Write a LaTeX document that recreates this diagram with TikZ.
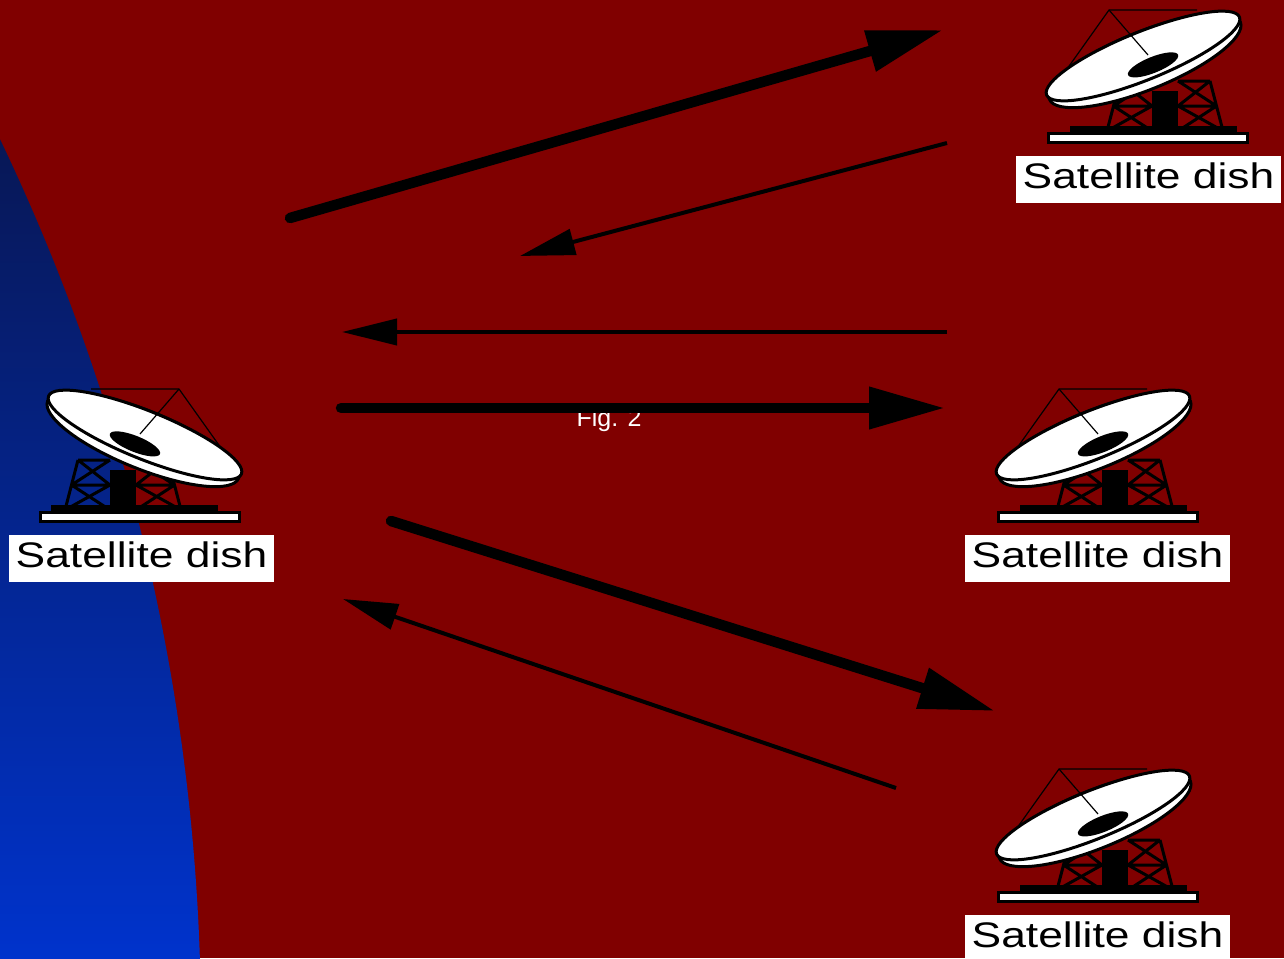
\documentclass[tikz,border=0pt]{standalone}
\usepackage{fontspec}
\setmainfont{Liberation Sans}
\newfontfamily\labelfont[FakeStretch=1.25]{Liberation Sans}
\usetikzlibrary{arrows.meta}

\definecolor{bgred}{RGB}{128,0,0}
\definecolor{navytop}{RGB}{8,22,80}
\definecolor{bluebottom}{RGB}{0,51,204}

\tikzset{
  dishlabel/.style={fill=white, text=black, anchor=north west,
    inner xsep=6.5pt, inner ysep=0pt, minimum height=47pt,
    text height=25pt, text depth=7pt,
    font=\labelfont\fontsize{35.5}{40}\selectfont},
  thicklink/.style={line width=10.5pt, line cap=round,
    -{Triangle[length=76pt,width=40pt]}},
  thinlink/.style={line width=4pt, -{Triangle[length=55pt,width=26pt]}},
  truss/.style={line width=3pt},
  pics/dish/.style={code={
    % feed support wires running behind the reflector
    \draw[line width=1.2pt] (150,4)--(62,4)--(15,70);
    % lattice tower
    \draw[truss] (60,125)--(73,75) (73,75)--(105,75) (66.5,100)--(105,100)
      (73,75)--(105,100) (105,75)--(66.5,100) (66.5,100)--(105,125) (105,100)--(60,125);
    \draw[truss] (176,125)--(163,75) (163,75)--(131,75) (169.5,100)--(131,100)
      (163,75)--(131,100) (131,75)--(169.5,100) (169.5,100)--(131,125) (131,100)--(176,125);
    % mast, foot bar and base plate
    \fill (105,85) rectangle (131,124);
    \fill (23,120) rectangle (190,128);
    \draw[line width=3pt, fill=white] (1.5,127.5) rectangle (200.5,136.5);
    % reflector: back rim, face and feed horn
    \begin{scope}[shift={(96,50)}, rotate=22]
      \draw[line width=3pt, fill=white] (0,5) ellipse [x radius=103, y radius=29];
      \draw[line width=3pt, fill=white] (0,0) ellipse [x radius=104, y radius=24];
      \fill (6,12) ellipse [x radius=27, y radius=8];
    \end{scope}
    % front wire to the feed
    \draw[line width=1.2pt] (62,4)--(101,49);
  }}
}

\begin{document}
\begin{tikzpicture}[x=1pt, y=-1pt]
  \useasboundingbox (0,0) rectangle (1284,958);
  \fill[bgred] (0,0) rectangle (1284,958);

  % blue earth curve on the left
  \begin{scope}
    \clip (0,0) rectangle (1284,958);
    \clip (-1855,1027) circle [radius=2056pt];
    \shade[top color=navytop, bottom color=bluebottom] (0,100) rectangle (240,958);
  \end{scope}

  % dishes
  \pic[xscale=-1] (dl) at (241,385) {dish};
  \pic (dtr) at (1047,6)   {dish};
  \pic (dmr) at (997,385)  {dish};
  \pic (dbr) at (997,765)  {dish};

  % labels
  \node[dishlabel] (ll)  at (9,535)    {Satellite dish};
  \node[dishlabel] (ltr) at (1016,156) {Satellite dish};
  \node[dishlabel] (lmr) at (965,535)  {Satellite dish};
  \node[dishlabel] (lbr) at (965,915)  {Satellite dish};

  % caption
  \node[text=white, font=\fontsize{25}{28}\selectfont] (fig) at (609,420) {Fig. 2};

  % link end points
  \coordinate (up1s) at (290,218);  \coordinate (up1e) at (943,30);
  \coordinate (dn1s) at (947,143);  \coordinate (dn1e) at (520,256);
  \coordinate (dn2s) at (947,332);  \coordinate (dn2e) at (342,332);
  \coordinate (up2s) at (341,408);  \coordinate (up2e) at (945,408);
  \coordinate (up3s) at (391,521);  \coordinate (up3e) at (995,711);
  \coordinate (dn3s) at (896,788);  \coordinate (dn3e) at (343,599);

  % links
  \draw[thicklink] (up1s) -- (up1e);
  \draw[thinlink]  (dn1s) -- (dn1e);
  \draw[thinlink]  (dn2s) -- (dn2e);
  \draw[thicklink] (up2s) -- (up2e);
  \draw[thicklink] (up3s) -- (up3e);
  \draw[thinlink]  (dn3s) -- (dn3e);
\end{tikzpicture}
\end{document}
